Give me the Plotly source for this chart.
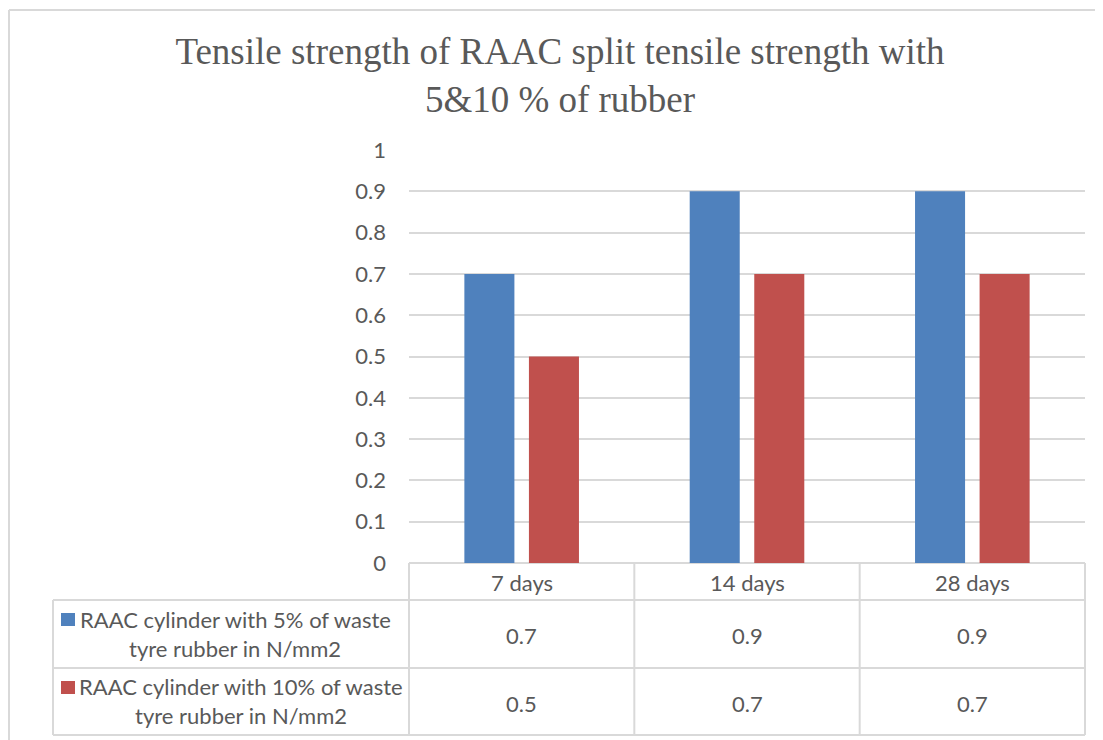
import plotly.graph_objects as go

# ---- data ----
categories = ["7 days", "14 days", "28 days"]
series_names = [
    "RAAC cylinder with 5% of waste tyre rubber in N/mm2",
    "RAAC cylinder with 10% of waste tyre rubber in N/mm2",
]
series_label_lines = [
    ["RAAC cylinder with 5% of waste", "tyre rubber in N/mm2"],
    ["RAAC cylinder with 10% of waste", "tyre rubber in N/mm2"],
]
values_5 = [0.7, 0.9, 0.9]
values_10 = [0.5, 0.7, 0.7]
y_ticks = [0, 0.1, 0.2, 0.3, 0.4, 0.5, 0.6, 0.7, 0.8, 0.9, 1]
y_tick_labels = ["0", "0.1", "0.2", "0.3", "0.4", "0.5", "0.6", "0.7", "0.8", "0.9", "1"]
title_text = "Tensile strength of RAAC split tensile strength with<br>5&10 % of rubber"

# ---- styling / layout constants (screen px, page has 8px body margin) ----
OFF = 8
W, H = 1103, 740
PL, PR, PT, PB = 409, 1085, 150, 563   # plot area in screen px
ML = PL - OFF
MT = PT - OFF
MR = W - (PR - OFF)
MB = H - (PB - OFF)
PW, PH = PR - PL, PB - PT
BLUE, RED = "#4F81BD", "#C0504D"
GRID = "#D9D9D9"
TXT = "#595959"
SANS = "Lato, 'Open Sans', sans-serif"
SERIF = "'Liberation Serif', 'Times New Roman', serif"
FS = 22
colors = [BLUE, RED]


def px_x(x):
    return (x - PL) / PW


def px_y(y):
    return (PB - y) / PH


fig = go.Figure()
for name, vals, col in zip(series_names, [values_5, values_10], colors):
    fig.add_trace(go.Bar(
        x=categories, y=vals, name=name,
        marker=dict(color=col, line=dict(width=0)),
        showlegend=False,
    ))

shapes = []
line = dict(color=GRID, width=2)
# outer chart border
shapes.append(dict(type="line", xref="paper", yref="paper",
                   x0=px_x(9), x1=px_x(W + 20), y0=px_y(10), y1=px_y(10), line=line))
shapes.append(dict(type="line", xref="paper", yref="paper",
                   x0=px_x(9), x1=px_x(9), y0=px_y(10), y1=px_y(H + 20), line=line))

# data table grid
row_bounds = [563, 600, 668, 735]
n = len(categories)
for i in range(n + 1):
    shapes.append(dict(type="line", xref="paper", yref="paper",
                       x0=i / n, x1=i / n, y0=0, y1=px_y(row_bounds[-1]), line=line))
shapes.append(dict(type="line", xref="paper", yref="paper",
                   x0=px_x(53), x1=px_x(53), y0=px_y(row_bounds[1]), y1=px_y(row_bounds[-1]), line=line))
for yb in row_bounds[1:]:
    shapes.append(dict(type="line", xref="paper", yref="paper",
                       x0=px_x(53), x1=1, y0=px_y(yb), y1=px_y(yb), line=line))

# legend keys
key_tops = [613, 681]
for col, kt in zip(colors, key_tops):
    shapes.append(dict(type="rect", xref="paper", yref="paper",
                       x0=px_x(61), x1=px_x(75), y0=px_y(kt), y1=px_y(kt + 13),
                       fillcolor=col, line=dict(width=0)))

annotations = []
# header row
for c in categories:
    annotations.append(dict(x=c, xref="x", y=px_y(582), yref="paper", text=c,
                            showarrow=False, xanchor="center", yanchor="middle",
                            font=dict(family=SANS, size=FS, color=TXT)))
# values
row_centers = [635, 703]
for vals, yc in zip([values_5, values_10], row_centers):
    for c, v in zip(categories, vals):
        annotations.append(dict(x=c, xref="x", y=px_y(yc), yref="paper", text=str(v),
                                showarrow=False, xanchor="center", yanchor="middle",
                                font=dict(family=SANS, size=FS, color=TXT)))
# series labels
label_cx = [235, 241]
label_ys = [(619, 648), (686, 715)]
for lines, cx, ys in zip(series_label_lines, label_cx, label_ys):
    for t, yy in zip(lines, ys):
        annotations.append(dict(x=px_x(cx), xref="paper", y=px_y(yy), yref="paper", text=t,
                                showarrow=False, xanchor="center", yanchor="middle",
                                font=dict(family=SANS, size=FS, color=TXT)))

fig.update_layout(
    width=W, height=H,
    margin=dict(l=ML, r=MR, t=MT, b=MB, pad=0),
    paper_bgcolor="white", plot_bgcolor="white",
    title=dict(text=title_text, x=(560 - OFF) / W, xref="container", xanchor="center",
               y=1 - 56 / H, yref="container", yanchor="middle",
               font=dict(family=SERIF, size=37, color=TXT)),
    barmode="group", bargap=0.427, bargroupgap=0.225,
    xaxis=dict(showticklabels=False, showgrid=False, zeroline=False, showline=False,
               ticks=""),
    yaxis=dict(range=[0, 1], tickvals=y_ticks, ticktext=y_tick_labels,
               showgrid=True, gridcolor=GRID, gridwidth=1.5,
               zeroline=True, zerolinecolor=GRID, zerolinewidth=2,
               showline=False, ticks="", ticklabelstandoff=22,
               tickfont=dict(family=SANS, size=FS, color=TXT)),
    shapes=shapes, annotations=annotations,
)

fig.write_html("out.html")
